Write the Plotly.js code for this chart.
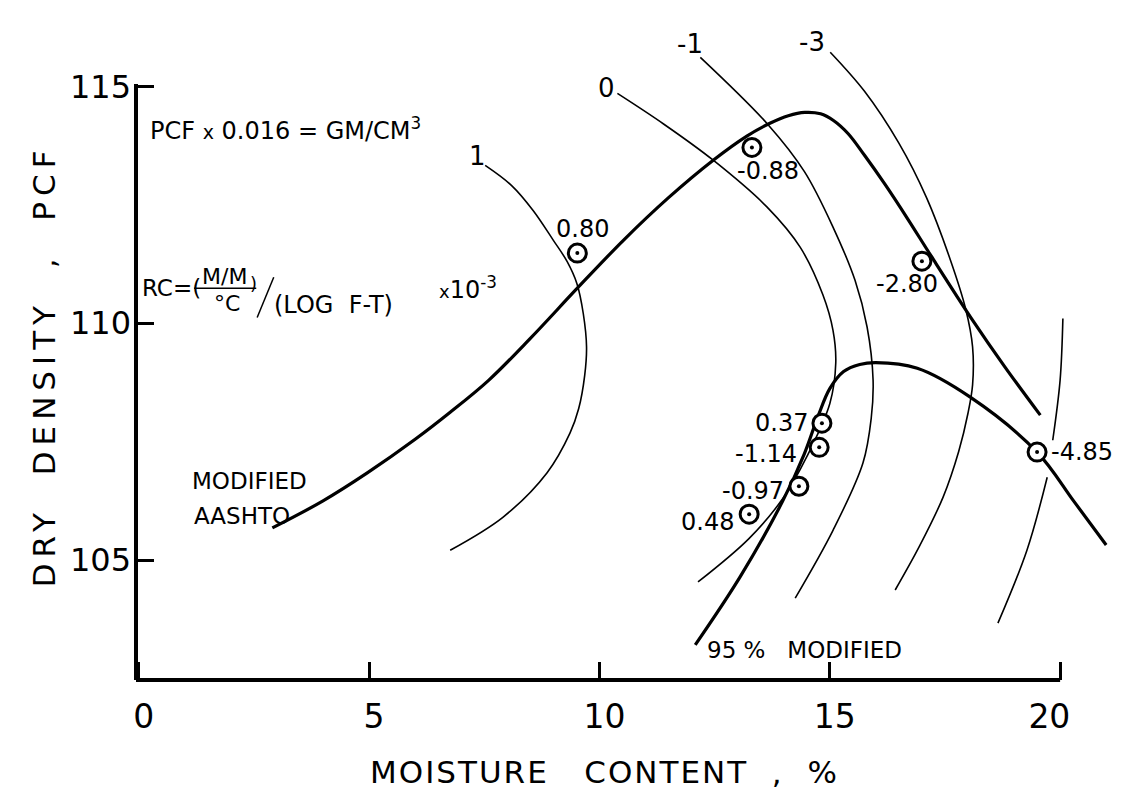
<!DOCTYPE html>
<html>
<head>
<meta charset="utf-8">
<script src="https://cdn.plot.ly/plotly-3.0.1.min.js"></script>
<style>html,body{margin:0;padding:0;background:#fff}</style>
</head>
<body>
<div id="chart" style="width:1121px;height:797px"></div>
<script>
// Modified AASHTO compaction curve (moisture %, dry density pcf)
const aashtoMoisture = [2.9, 4.0, 4.96, 6.0, 6.76, 7.6, 8.5, 9.54, 10.52, 11.5, 12.47, 13.2, 13.7, 14.1, 14.46, 14.8, 15.08, 15.4, 15.75, 16.2, 16.68, 17.2, 18.11, 18.8, 19.57];
const aashtoDensity  = [105.68, 106.25, 106.84, 107.55, 108.12, 108.8, 109.68, 110.76, 111.75, 112.65, 113.44, 113.95, 114.22, 114.38, 114.45, 114.42, 114.28, 114.0, 113.55, 112.93, 112.22, 111.42, 110.05, 109.08, 108.06];

// 95% Modified compaction curve
const m95Moisture = [12.08, 13.05, 13.98, 14.45, 14.75, 15.0, 15.3, 15.65, 16.0, 16.9, 18.05, 19.5, 20.3, 21.0];
const m95Density  = [103.21, 104.64, 106.25, 107.25, 108.05, 108.62, 108.98, 109.13, 109.17, 109.05, 108.44, 107.28, 106.24, 105.32];

// RC contours (x10^-3)
const rcPos1Moisture = [7.52, 8.1, 8.56, 9.0, 9.3, 9.51, 9.65, 9.72, 9.68, 9.55, 9.36, 8.86, 7.91, 6.76];
const rcPos1Density  = [113.33, 112.9, 112.38, 111.75, 111.3, 110.84, 110.2, 109.5, 108.9, 108.2, 107.68, 106.84, 105.91, 105.21];

const rcZeroMoisture = [10.39, 11.4, 12.47, 13.64, 14.36, 14.85, 15.07, 15.13, 15.0, 14.51, 13.98, 13.24, 12.14];
const rcZeroDensity  = [114.85, 114.2, 113.44, 112.45, 111.6, 110.6, 109.85, 109.16, 108.3, 107.2, 106.3, 105.45, 104.54];

const rcNeg1Moisture = [12.19, 13.67, 14.45, 15.07, 15.55, 15.81, 15.94, 15.9, 15.72, 15.07, 14.25];
const rcNeg1Density  = [115.61, 114.18, 113.2, 112.03, 110.9, 109.92, 108.8, 108.0, 107.05, 105.63, 104.2];

const rcNeg3Moisture = [15.01, 15.75, 16.5, 17.1, 17.62, 17.95, 18.1, 18.1, 18.0, 17.8, 17.46, 16.95, 16.42];
const rcNeg3Density  = [115.72, 114.9, 113.8, 112.65, 111.33, 110.3, 109.5, 108.7, 108.1, 107.3, 106.33, 105.3, 104.37];

const rcNeg5Moisture = [20.06, 20.0, 19.84, null, 19.72, 19.28, 18.65];
const rcNeg5Density  = [110.1, 108.8, 107.53, null, 106.75, 105.21, 103.67];

const contourLabels   = ['1', '0', '-1', '-3'];
const contourLabelX   = [7.35, 10.16, 11.97, 14.61];
const contourLabelY   = [113.54, 114.96, 115.89, 115.93];

// Test specimens with measured RC
const specMoisture = [9.52, 13.31, 17.0, 14.83, 14.77, 14.33, 13.25, 19.5];
const specDensity  = [111.48, 113.71, 111.31, 107.89, 107.38, 106.56, 105.97, 107.28];
const specRC       = ['0.80', '-0.88', '-2.80', '0.37', '-1.14', '-0.97', '0.48', '-4.85'];

const xTicks = [0, 5, 10, 15, 20];
const xTickText = ['0', '5', '10', '15', '20&nbsp;&nbsp;&nbsp;'];
const yTicks = [105, 110, 115];

// label placement next to each specimen circle
const specLabelPlace = [
  {xanchor: 'center', xshift: 5,   yshift: 24},
  {xanchor: 'center', xshift: 16,  yshift: -24},
  {xanchor: 'center', xshift: -15, yshift: -23},
  {xanchor: 'right',  xshift: -12, yshift: 0},
  {xanchor: 'right',  xshift: -20, yshift: -7},
  {xanchor: 'right',  xshift: -13, yshift: -5},
  {xanchor: 'right',  xshift: -13, yshift: -8},
  {xanchor: 'left',   xshift: 12,  yshift: 0}
];

const FONT = 'DejaVu Sans, Liberation Sans, sans-serif';
const X_MIN = -0.06, X_MAX = 21.3, Y_MIN = 102.47, Y_MAX = 116.4;

function curve(xs, ys, w) {
  return {
    x: xs, y: ys, mode: 'lines', connectgaps: false,
    line: {color: '#000', width: w, shape: 'spline', smoothing: 1},
    hoverinfo: 'skip', showlegend: false
  };
}

const traces = [
  curve(rcPos1Moisture, rcPos1Density, 1.6),
  curve(rcZeroMoisture, rcZeroDensity, 1.6),
  curve(rcNeg1Moisture, rcNeg1Density, 1.6),
  curve(rcNeg3Moisture, rcNeg3Density, 1.6),
  curve(rcNeg5Moisture, rcNeg5Density, 1.6),
  curve(aashtoMoisture, aashtoDensity, 3.2),
  curve(m95Moisture, m95Density, 3.2),
  {
    x: specMoisture, y: specDensity, mode: 'markers', showlegend: false, hoverinfo: 'skip',
    marker: {symbol: 'circle', size: 18, color: '#fff', line: {color: '#000', width: 3}}
  },
  {
    x: specMoisture, y: specDensity, mode: 'markers', showlegend: false, hoverinfo: 'skip',
    marker: {symbol: 'circle', size: 4, color: '#000'}
  }
];

const annotations = [];
function note(text, x, y, size, extra) {
  annotations.push(Object.assign({
    text: text, x: x, y: y, xref: 'x', yref: 'y', showarrow: false,
    font: {family: FONT, size: size, color: '#000'}, xanchor: 'left', yanchor: 'middle'
  }, extra || {}));
}

specRC.forEach(function (t, i) {
  note(t, specMoisture[i], specDensity[i], 24, specLabelPlace[i]);
});
contourLabels.forEach(function (t, i) {
  note(t, contourLabelX[i], contourLabelY[i], 26, {xanchor: 'center'});
});

note('PCF <span style="font-size:19px">x</span> 0.016 = GM/CM<sup>3</sup>', 0.2, 114.1, 24);
note('RC=(', 0.03, 110.74, 23);
note('M/M', 1.87, 110.98, 22, {xanchor: 'center'});
note('°C', 1.92, 110.42, 22, {xanchor: 'center'});
note(')', 2.5, 110.84, 18, {xanchor: 'center'});
note('(LOG  F-T)', 2.89, 110.38, 24);
note('<span style="font-size:18px">x</span>10<sup>-3</sup>', 6.47, 110.74, 24);
note('MODIFIED', 1.12, 106.67, 23);
note('AASHTO', 1.16, 105.93, 23);
note('95 %   MODIFIED', 12.29, 103.11, 23);

// axis titles
annotations.push({
  text: '<span style="letter-spacing:2px">MOISTURE   CONTENT  ,  %</span>',
  x: 10.1, y: -0.14, xref: 'x', yref: 'paper', showarrow: false,
  font: {family: FONT, size: 31, color: '#000'}, xanchor: 'center', yanchor: 'middle'
});
annotations.push({
  text: '<span style="letter-spacing:6px">DRY  DENSITY  ,  PCF</span>',
  x: -0.094, y: 109.1, xref: 'paper', yref: 'y', showarrow: false, textangle: -90,
  font: {family: FONT, size: 31, color: '#000'}, xanchor: 'center', yanchor: 'middle'
});

const shapes = [
  // axis frame: left and bottom lines
  {type: 'line', xref: 'paper', yref: 'y', x0: 0, x1: 0, y0: Y_MIN, y1: 115.05, line: {color: '#000', width: 4}},
  {type: 'line', xref: 'x', yref: 'paper', x0: X_MIN, x1: 20, y0: 0, y1: 0, line: {color: '#000', width: 4}},
  // fraction bar and slash of the RC expression
  {type: 'line', xref: 'x', yref: 'y', x0: 1.2, x1: 2.55, y0: 110.74, y1: 110.74, line: {color: '#000', width: 1.5}},
  {type: 'line', xref: 'x', yref: 'y', x0: 2.57, x1: 2.93, y0: 110.12, y1: 110.97, line: {color: '#000', width: 1.5}}
];

const layout = {
  width: 1121, height: 797, autosize: false,
  margin: {l: 136, r: 1, t: 20, b: 117},
  paper_bgcolor: '#fff', plot_bgcolor: '#fff',
  showlegend: false,
  xaxis: {
    range: [X_MIN, X_MAX], showgrid: false, zeroline: false, showline: false,
    tickmode: 'array', tickvals: xTicks, ticktext: xTickText,
    ticks: 'inside', ticklen: 18, tickwidth: 3, tickcolor: '#000',
    ticklabelstandoff: 14, ticklabelshift: 5,
    tickfont: {family: FONT, size: 33, color: '#000'}
  },
  yaxis: {
    range: [Y_MIN, Y_MAX], showgrid: false, zeroline: false, showline: false,
    tickmode: 'array', tickvals: yTicks, ticktext: yTicks.map(String),
    ticks: 'inside', ticklen: 18, tickwidth: 3, tickcolor: '#000',
    ticklabelstandoff: 4,
    tickfont: {family: FONT, size: 32, color: '#000'}
  },
  annotations: annotations,
  shapes: shapes
};

Plotly.newPlot('chart', traces, layout, {staticPlot: true, displayModeBar: false});
</script>
</body>
</html>
